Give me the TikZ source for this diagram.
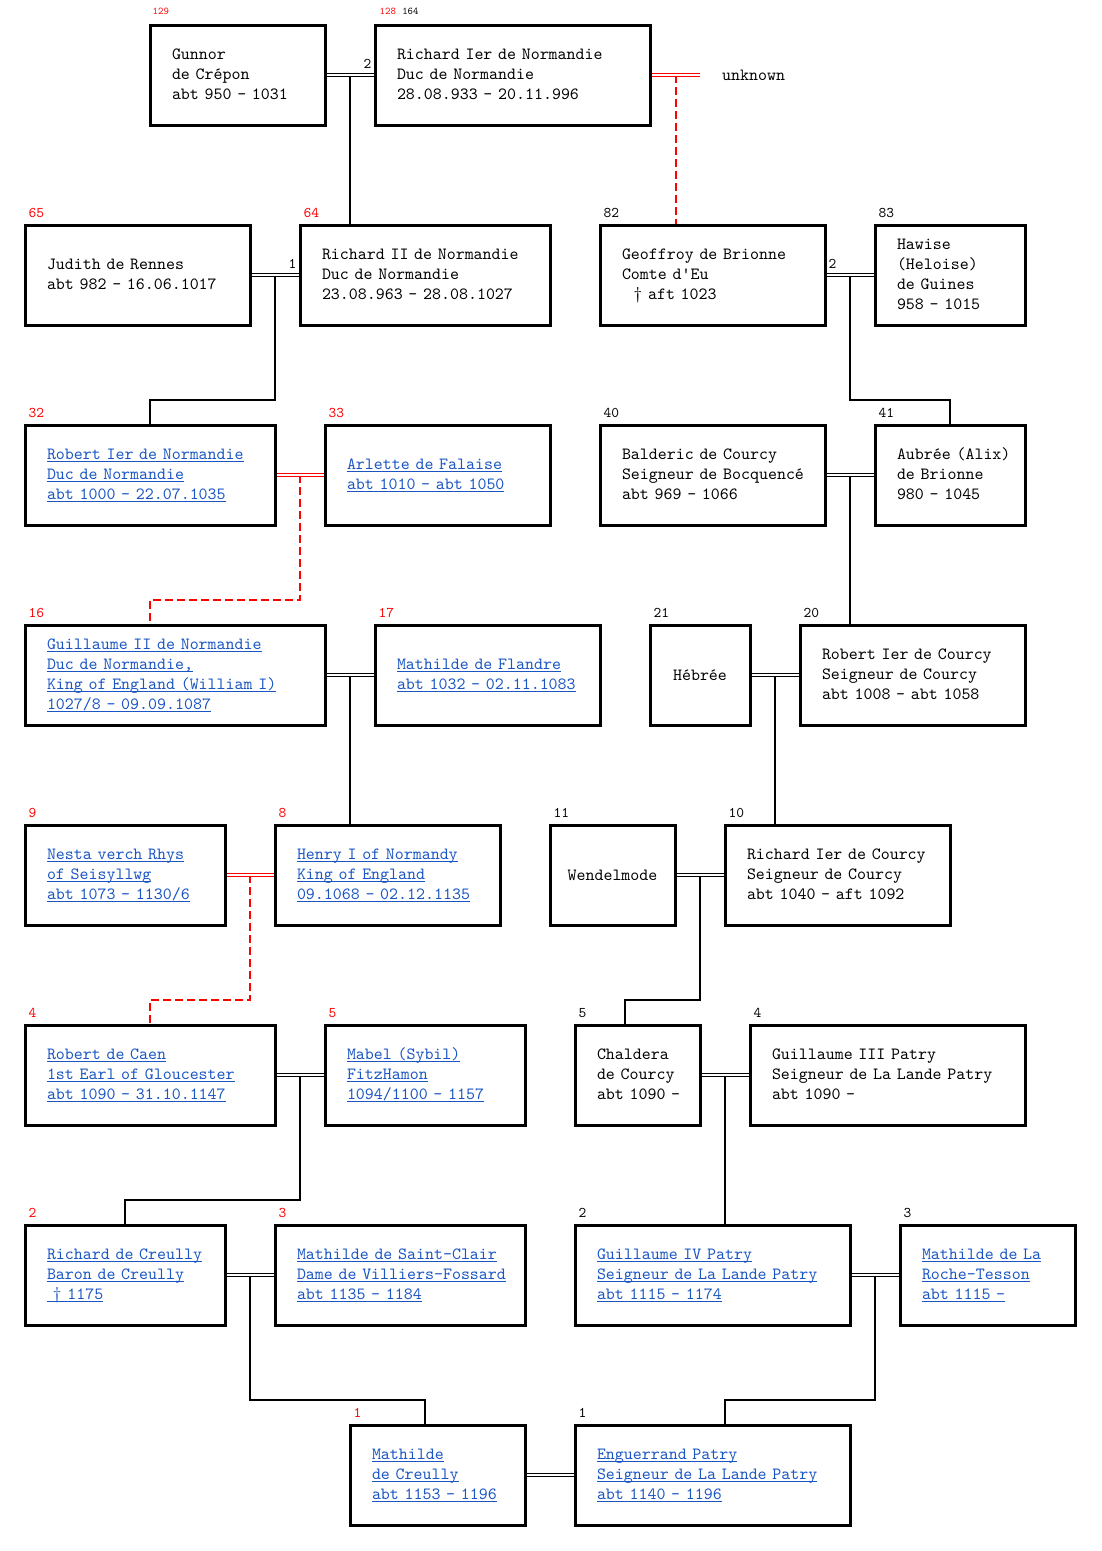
\documentclass[tikz,border=0pt]{standalone}
\usepackage{fontspec}
\usepackage{xcolor}
\usepackage{tikz}
\usetikzlibrary{calc,positioning}
\setmonofont{lmmono10-regular.otf}
\definecolor{linkblue}{RGB}{25,85,195}
\newcommand{\glink}[1]{\textcolor{linkblue}{\setbox0\hbox{#1}\rlap{\rule[-3pt]{\wd0}{0.8pt}}\box0}}
\newcommand{\rows}[1]{\begin{tabular}{@{}l@{}}#1\end{tabular}}

\begin{document}
\begin{tikzpicture}[x=1pt,y=-1pt,
  every node/.style={font=\ttfamily\fontsize{17.1}{20}\selectfont},
  person/.style={draw,line width=3pt,minimum height=100pt,inner xsep=22pt,text width=#1*1pt-44pt,align=left},
  lone/.style={draw,line width=3pt,minimum height=100pt,minimum width=#1*1pt,inner sep=0pt},
  sosa/.style={font=\ttfamily\fontsize{14.8}{15}\selectfont,inner sep=0pt,anchor=base west},
  wee/.style={font=\ttfamily\fontsize{10.3}{10}\selectfont,inner sep=0pt,anchor=base west},
  wed/.style={double,double distance=1.6pt,line width=1pt},
  kin/.style={line width=1.5pt},
  kinred/.style={red,line width=2pt,dash pattern=on 8pt off 4pt}]
  \useasboundingbox (0,0) rectangle (1101,1551);

  \node[person=175] (gunnor) at (237.5,75) {\rows{Gunnor\\de Crépon\\abt 950 - 1031}};
  \node[person=275] (richA) at (512.5,75) {\rows{Richard Ier de Normandie\\Duc de Normandie\\28.08.933 - 20.11.996}};
  \node[anchor=west,inner sep=0pt] (unknown) at (722,75) {unknown};

  \node[person=225] (judith) at (137.5,275) {\rows{Judith de Rennes\\abt 982 - 16.06.1017}};
  \node[person=250] (richB) at (425,275) {\rows{Richard II de Normandie\\Duc de Normandie\\23.08.963 - 28.08.1027}};
  \node[person=225] (geoffroy) at (712.5,275) {\rows{Geoffroy de Brionne\\Comte d'Eu\\\ \ † aft 1023}};
  \node[person=150] (hawise) at (950,275) {\rows{Hawise\\(Heloise)\\de Guines\\958 - 1015}};

  \node[person=250] (robertN) at (150,475) {\rows{\glink{Robert Ier de Normandie}\\\glink{Duc de Normandie}\\\glink{abt 1000 - 22.07.1035}}};
  \node[person=225] (arlette) at (437.5,475) {\rows{\glink{Arlette de Falaise}\\\glink{abt 1010 - abt 1050}}};
  \node[person=225] (balderic) at (712.5,475) {\rows{Balderic de Courcy\\Seigneur de Bocquencé\\abt 969 - 1066}};
  \node[person=150] (aubree) at (950,475) {\rows{Aubrée (Alix)\\de Brionne\\980 - 1045}};

  \node[person=300] (guillaume) at (175,675) {\rows{\glink{Guillaume II de Normandie}\\\glink{Duc de Normandie,}\\\glink{King of England (William I)}\\\glink{1027/8 - 09.09.1087}}};
  \node[person=225] (mathildeF) at (487.5,675) {\rows{\glink{Mathilde de Flandre}\\\glink{abt 1032 - 02.11.1083}}};
  \node[lone=100] (hebree) at (700,675) {Hébrée};
  \node[person=225] (robertC) at (912.5,675) {\rows{Robert Ier de Courcy\\Seigneur de Courcy\\abt 1008 - abt 1058}};

  \node[person=200] (nesta) at (125,875) {\rows{\glink{Nesta verch Rhys}\\\glink{of Seisyllwg}\\\glink{abt 1073 - 1130/6}}};
  \node[person=225] (henry) at (387.5,875) {\rows{\glink{Henry I of Normandy}\\\glink{King of England}\\\glink{09.1068 - 02.12.1135}}};
  \node[lone=125] (wendel) at (612.5,875) {Wendelmode};
  \node[person=225] (richardC) at (837.5,875) {\rows{Richard Ier de Courcy\\Seigneur de Courcy\\abt 1040 - aft 1092}};

  \node[person=250] (robertCaen) at (150,1075) {\rows{\glink{Robert de Caen}\\\glink{1st Earl of Gloucester}\\\glink{abt 1090 - 31.10.1147}}};
  \node[person=200] (mabel) at (425,1075) {\rows{\glink{Mabel (Sybil)}\\\glink{FitzHamon}\\\glink{1094/1100 - 1157}}};
  \node[person=125] (chaldera) at (637.5,1075) {\rows{Chaldera\\de Courcy\\abt 1090 -}};
  \node[person=275] (patryC) at (887.5,1075) {\rows{Guillaume III Patry\\Seigneur de La Lande Patry\\abt 1090 -}};

  \node[person=200] (creully) at (125,1275) {\rows{\glink{Richard de Creully}\\\glink{Baron de Creully}\\\glink{\ † 1175}}};
  \node[person=250] (stclair) at (400,1275) {\rows{\glink{Mathilde de Saint-Clair}\\\glink{Dame de Villiers-Fossard}\\\glink{abt 1135 - 1184}}};
  \node[person=275] (patryD) at (712.5,1275) {\rows{\glink{Guillaume IV Patry}\\\glink{Seigneur de La Lande Patry}\\\glink{abt 1115 - 1174}}};
  \node[person=175] (tesson) at (987.5,1275) {\rows{\glink{Mathilde de La}\\\glink{Roche-Tesson}\\\glink{abt 1115 -}}};

  \node[person=175] (mathildeCr) at (437.5,1475) {\rows{\glink{Mathilde}\\\glink{de Creully}\\\glink{abt 1153 - 1196}}};
  \node[person=275] (enguerrand) at (712.5,1475) {\rows{\glink{Enguerrand Patry}\\\glink{Seigneur de La Lande Patry}\\\glink{abt 1140 - 1196}}};

  \node[wee,text=red] (s-gunnor) at ([xshift=4pt,yshift=9pt]gunnor.north west) {129};
  \node[wee,text=red] (s-richA) at ([xshift=6pt,yshift=9pt]richA.north west) {128};
  \node[wee,right=6pt of s-richA] (s-richA2) {164};
  \foreach \who/\num/\col in {judith/65/red, richB/64/red, geoffroy/82/black, hawise/83/black,
      robertN/32/red, arlette/33/red, balderic/40/black, aubree/41/black,
      guillaume/16/red, mathildeF/17/red, hebree/21/black, robertC/20/black,
      nesta/9/red, henry/8/red, wendel/11/black, richardC/10/black,
      robertCaen/4/red, mabel/5/red, chaldera/5/black, patryC/4/black,
      creully/2/red, stclair/3/red, patryD/2/black, tesson/3/black,
      mathildeCr/1/red, enguerrand/1/black}
    \node[sosa,text=\col] (s-\who) at ([xshift=5pt,yshift=6pt]\who.north west) {\num};
  \node[sosa,anchor=base east] (w-richA) at ([xshift=-2pt,yshift=7pt]richA.west) {2};
  \node[sosa,anchor=base east] (w-richB) at ([xshift=-2pt,yshift=7pt]richB.west) {1};
  \node[sosa] (w-geoffroy) at ([xshift=2pt,yshift=7pt]geoffroy.east) {2};

  \coordinate (uend) at ([xshift=-22pt]unknown.west);
  \coordinate (c2) at ($(richA.east)!.5!(uend)$);
  \coordinate (c5) at ($(robertN.east)!.5!(arlette.west)$);
  \coordinate (c9) at ($(nesta.east)!.5!(henry.west)$);
  \foreach \a/\b/\m in {gunnor/richA/c1, judith/richB/c3, geoffroy/hawise/c4, balderic/aubree/c6,
      guillaume/mathildeF/c7, hebree/robertC/c8, wendel/richardC/c10, robertCaen/mabel/c11,
      chaldera/patryC/c12, creully/stclair/c13, patryD/tesson/c14}
    \coordinate (\m) at ($(\a.east)!.5!(\b.west)$);

  \draw[kin] (c1) -- (c1 |- richB.north);
  \draw[kinred] (c2) -- (c2 |- geoffroy.north);
  \draw[kin] (c3) -- ++(0,125) -| (robertN.north);
  \draw[kin] (c4) -- ++(0,125) -| (aubree.north);
  \draw[kinred] (c5) -- ++(0,125) -| ([xshift=-25pt]guillaume.north);
  \draw[kin] (c6) -- (c6 |- robertC.north);
  \draw[kin] (c7) -- (c7 |- henry.north);
  \draw[kin] (c8) -- (c8 |- richardC.north);
  \draw[kinred] (c9) -- ++(0,125) -| (robertCaen.north);
  \draw[kin] (c10) -- ++(0,125) -| ([xshift=-12.5pt]chaldera.north);
  \draw[kin] (c11) -- ++(0,125) -| (creully.north);
  \draw[kin] (c12) -- (c12 |- patryD.north);
  \draw[kin] (c13) -- ++(0,125) -| ([xshift=-12.5pt]mathildeCr.north);
  \draw[kin] (c14) -- ++(0,125) -| ([xshift=12.5pt]enguerrand.north);

  \foreach \a/\b in {gunnor/richA, judith/richB, geoffroy/hawise, balderic/aubree,
      guillaume/mathildeF, hebree/robertC, wendel/richardC, robertCaen/mabel,
      chaldera/patryC, creully/stclair, patryD/tesson, mathildeCr/enguerrand}
    \draw[wed] (\a.east) -- (\b.west);
  \draw[wed,red] (richA.east) -- (uend);
  \draw[wed,red] (robertN.east) -- (arlette.west);
  \draw[wed,red] (nesta.east) -- (henry.west);
\end{tikzpicture}
\end{document}
